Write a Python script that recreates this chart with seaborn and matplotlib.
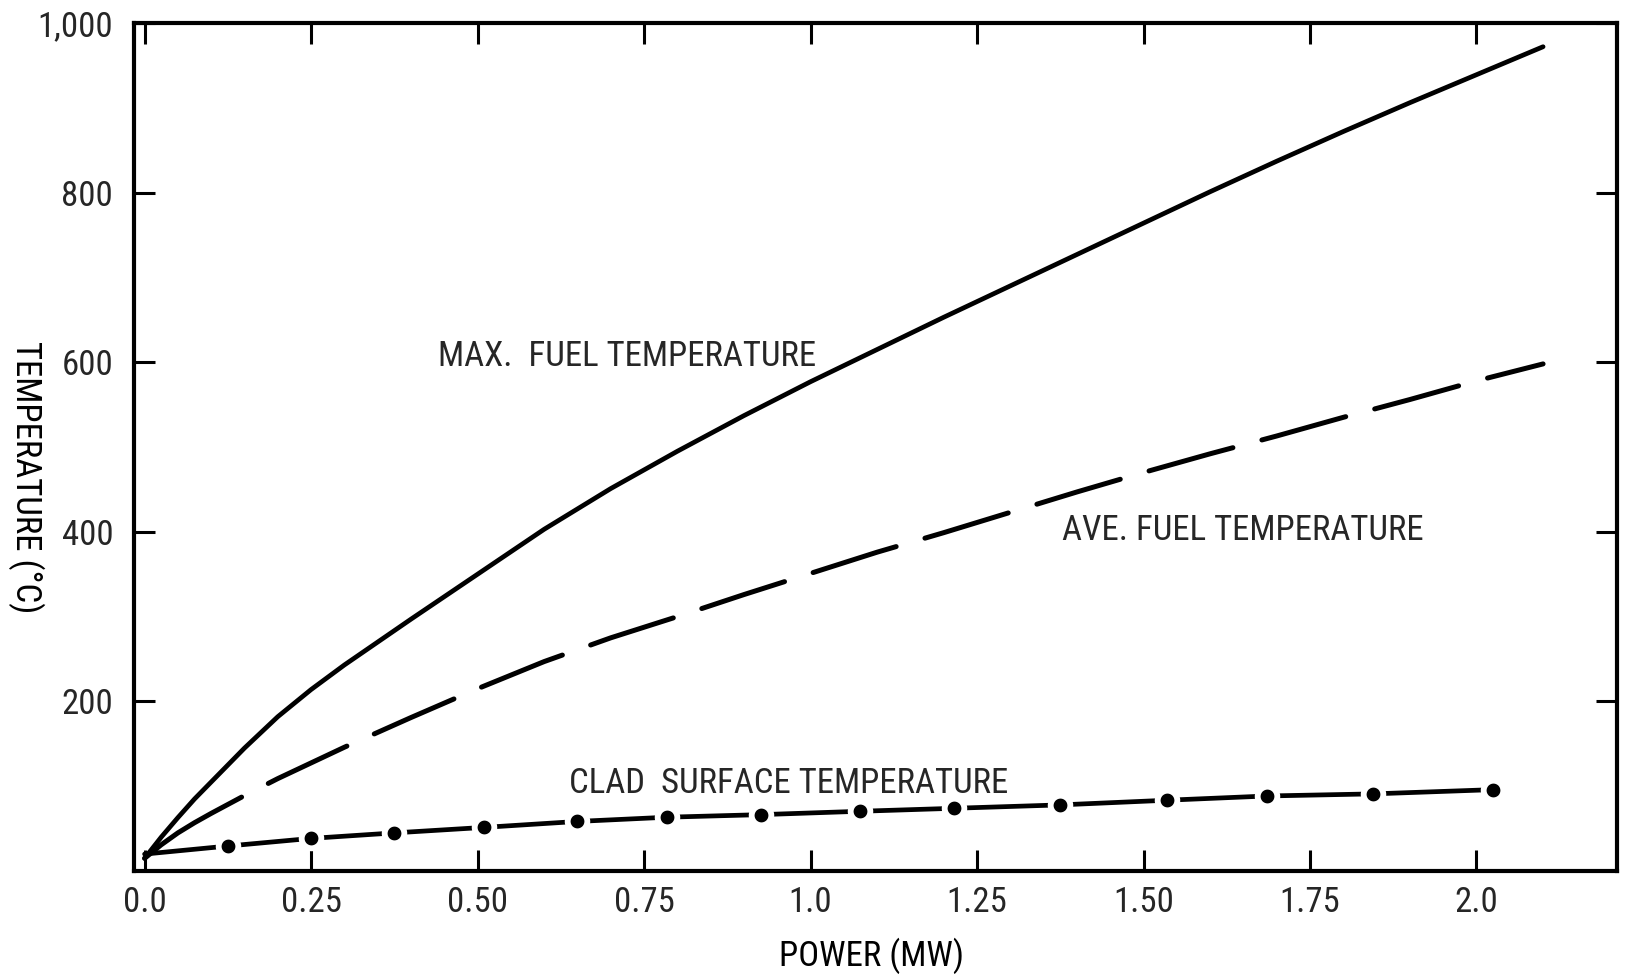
import matplotlib
matplotlib.use("Agg")
import matplotlib.pyplot as plt
from matplotlib import font_manager
import pandas as pd
import seaborn as sns

# Maximum fuel temperature (°C) against reactor power (MW)
max_power = [0.0, 0.025, 0.05, 0.075, 0.1, 0.15, 0.2, 0.25, 0.3, 0.4, 0.5, 0.6,
             0.7, 0.8, 0.9, 1.0, 1.1, 1.2, 1.3, 1.4, 1.5, 1.6, 1.7, 1.8,
             1.9, 2.0, 2.1]
max_temp = [15, 40, 63, 85, 105, 145, 182, 214, 243, 297, 350, 403,
            451, 495, 537, 577, 615, 653, 690, 727, 764, 801, 837, 872,
            906, 939, 972]

# Average fuel temperature (°C)
ave_power = [0.0, 0.025, 0.05, 0.075, 0.1, 0.15, 0.2, 0.3, 0.4, 0.5, 0.6, 0.7,
             0.8, 0.9, 1.0, 1.1, 1.2, 1.3, 1.4, 1.5, 1.6, 1.7, 1.8, 1.9,
             2.0, 2.1]
ave_temp = [15, 31, 45, 57, 68, 89, 109, 146, 181, 215, 247, 275,
            300, 326, 351, 376, 399, 423, 447, 470, 492, 513, 535, 556,
            578, 598]

# Clad surface temperature (°C); every point after the first is a plotted dot
clad_power = [0.0, 0.125, 0.25, 0.375, 0.51, 0.65, 0.785, 0.925, 1.075,
              1.215, 1.375, 1.535, 1.685, 1.845, 2.025]
clad_temp = [20, 29.5, 38.5, 45, 51.5, 58.5, 63.5, 66.5, 70.5,
             74, 78, 83.5, 88.5, 91, 96]

x_ticks = [0.0, 0.25, 0.50, 0.75, 1.0, 1.25, 1.50, 1.75, 2.0]
x_tick_labels = ["0.0", "0.25", "0.50", "0.75", "1.0", "1.25", "1.50", "1.75", "2.0"]
y_ticks = [200, 400, 600, 800, 1000]
y_tick_labels = ["200", "400", "600", "800", "1,000"]

sns.set_theme(style="ticks")

installed = {f.name for f in font_manager.fontManager.ttflist}
families = [f for f in ["Liberation Sans Narrow", "Roboto Condensed", "Liberation Sans"]
            if f in installed] + ["DejaVu Sans"]
plt.rcParams["font.family"] = families

fig = plt.figure(figsize=(16.33, 9.74), dpi=100)
ax = fig.add_axes([0.0821, 0.1057, 0.9081, 0.8707])

max_df = pd.DataFrame({"power": max_power, "temp": max_temp})
ave_df = pd.DataFrame({"power": ave_power, "temp": ave_temp})
clad_df = pd.DataFrame({"power": clad_power, "temp": clad_temp})

lw = 3.4
sns.lineplot(data=max_df, x="power", y="temp", ax=ax, color="black",
             linewidth=lw, estimator=None, sort=False,
             solid_capstyle="round", solid_joinstyle="round")

sns.lineplot(data=ave_df, x="power", y="temp", ax=ax, color="black",
             linewidth=lw + 0.2, estimator=None, sort=False)
ave_line = ax.lines[-1]
ave_line.set_dashes([23.0, 6.0] + [17.4, 6.0] * 30)
ave_line.set_dash_capstyle("round")
ave_line.set_dash_joinstyle("round")

sns.lineplot(data=clad_df, x="power", y="temp", ax=ax, color="black",
             linewidth=lw, estimator=None, sort=False,
             solid_capstyle="round")
# dots with a white ring so the line breaks around each one
sns.scatterplot(data=clad_df.iloc[1:], x="power", y="temp", ax=ax,
                color="black", s=200, edgecolor="white", linewidth=4.2,
                zorder=5, legend=False)

ax.set_xlim(-0.0158, 2.211)
ax.set_ylim(0, 1000)
ax.set_xticks(x_ticks)
ax.set_xticklabels(x_tick_labels)
ax.set_yticks(y_ticks)
ax.set_yticklabels(y_tick_labels)

for side in ["left", "right", "top", "bottom"]:
    ax.spines[side].set_visible(True)
    ax.spines[side].set_linewidth(3.0)
    ax.spines[side].set_color("black")

ax.tick_params(axis="both", which="major", direction="in", length=15, width=2.2,
               color="black", labelsize=25, top=True, right=True)
ax.tick_params(axis="x", pad=11)
ax.tick_params(axis="y", pad=15)

ax.set_xlabel("POWER (MW)", fontsize=25, color="black")
ax.xaxis.set_label_coords(0.497, -0.078)
ax.set_ylabel("TEMPERATURE (°C)", fontsize=25, color="black", rotation=270,
              va="center")
ax.yaxis.set_label_coords(-0.073, 0.465)

ax.text(0.441, 596, "MAX.  FUEL TEMPERATURE", fontsize=25, ha="left", va="baseline")
ax.text(1.378, 390, "AVE. FUEL TEMPERATURE", fontsize=25, ha="left", va="baseline")
ax.text(0.637, 92, "CLAD  SURFACE TEMPERATURE", fontsize=25, ha="left", va="baseline")

ax.grid(False)
fig.savefig("out.png", dpi=100, facecolor="white")
